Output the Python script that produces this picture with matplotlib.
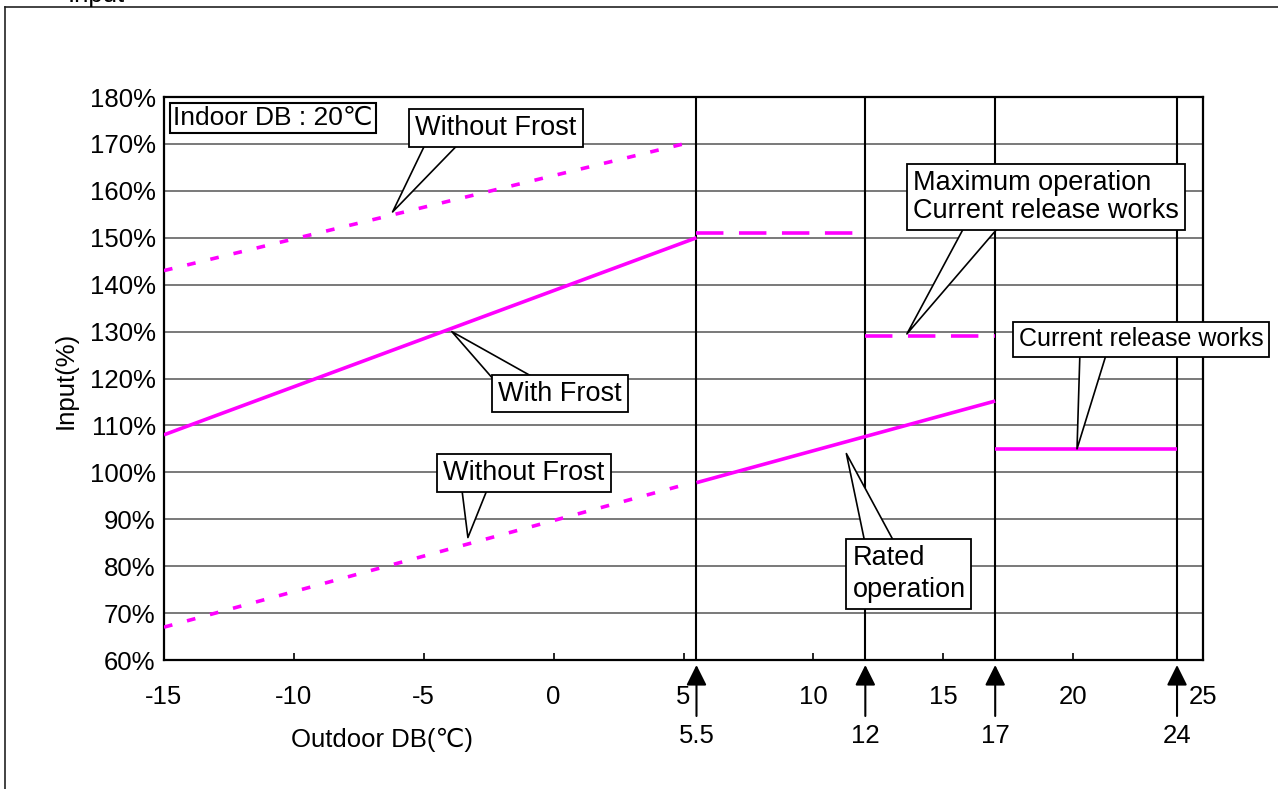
import matplotlib
matplotlib.use("Agg")
import matplotlib.pyplot as plt
from matplotlib.lines import Line2D

plt.rcParams['font.family'] = ['Liberation Sans', 'DejaVu Sans']

# ---- data ----
wf_upper_x = [-15, 5]
wf_upper_y = [143, 170]
with_frost_x = [-15, 5.5]
with_frost_y = [108, 150]
max_op1_x = [5.5, 12]
max_op1_y = [151, 151]
max_op2_x = [12, 17]
max_op2_y = [129, 129]
wf_lower_x = [-15, 5]
wf_lower_y = [67, 97.3]
rated_x = [5.5, 17]
rated_y = [97.8, 115.2]
cur_rel_x = [17, 24]
cur_rel_y = [105, 105]

marker_x = [5.5, 12, 17, 24]
marker_labels = ["5.5", "12", "17", "24"]
x_ticks = [-15, -10, -5, 0, 5, 10, 15, 20, 25]
y_ticks = [60, 70, 80, 90, 100, 110, 120, 130, 140, 150, 160, 170, 180]
y_tick_labels = [f"{v}%" for v in y_ticks]

MAG = '#FF00FF'
FS = 18.5
FSC = 19.5

fig = plt.figure(figsize=(12.78, 7.89), dpi=100)
ax = fig.add_axes([164/1278, 1-660/789, (1203-164)/1278, (660-97)/789])
ax.set_xlim(-15, 25)
ax.set_ylim(60, 180)

# grid
for v in y_ticks:
    ax.axhline(v, color='#555555', lw=1.1, zorder=1)
for m in marker_x:
    ax.axvline(m, color='black', lw=1.5, zorder=1.5)

dot = dict(color=MAG, lw=2.6, dashes=(2.4, 4.2), dash_capstyle='butt', zorder=3)
dash = dict(color=MAG, lw=2.6, dashes=(7.6, 4.3), dash_capstyle='butt', zorder=3)
solid = dict(color=MAG, lw=2.6, solid_capstyle='butt', zorder=3)

ax.plot(wf_upper_x, wf_upper_y, **dot)
ax.plot(with_frost_x, with_frost_y, **solid)
ax.plot(max_op1_x, max_op1_y, **dash)
ax.plot(max_op2_x, max_op2_y, **dash)
ax.plot(wf_lower_x, wf_lower_y, **dot)
ax.plot(rated_x, rated_y, **solid)
ax.plot(cur_rel_x, cur_rel_y, **solid)

# axes styling
for s in ax.spines.values():
    s.set_linewidth(1.6)
    s.set_color('black')
ax.set_xticks(x_ticks)
ax.set_xticklabels([str(v) for v in x_ticks])
ax.set_yticks(y_ticks)
ax.set_yticklabels(y_tick_labels)
ax.tick_params(axis='x', direction='in', length=5, width=1.2, labelsize=FS, pad=18)
ax.tick_params(axis='y', direction='in', length=0, labelsize=FS, pad=6)

ax.set_xlabel("Outdoor DB(℃)", fontsize=FS)
ax.xaxis.set_label_coords((382-164)/1039, -(740-660)/563)
ax.xaxis.label.set_va('center')
ax.set_ylabel("Input(%)", fontsize=FS)
ax.yaxis.set_label_coords((66-164)/1039, (660-380)/563)
ax.yaxis.label.set_va('center')

# arrows below x-axis marking boundaries
trans = ax.get_xaxis_transform()
for m, lab in zip(marker_x, marker_labels):
    ax.annotate('', xy=(m, -5/563), xycoords=trans, xytext=(m, -56/563), textcoords=trans,
                arrowprops=dict(arrowstyle='-|>,head_length=0.62,head_width=0.31', mutation_scale=20,
                                lw=1.5, color='black', shrinkA=0, shrinkB=0),
                annotation_clip=False)
    ax.text(m, -76/563, lab, transform=trans, ha='center', va='center', fontsize=FS)

# indoor DB box
ax.text(9/1039, (660-118)/563, "Indoor DB : 20℃", transform=ax.transAxes, ha='left', va='center',
        fontsize=FSC - 0.5, zorder=6,
        bbox=dict(boxstyle='square,pad=0.12', fc='white', ec='black', lw=1.5))

# callouts: text, tip, text centre, arrow start (relative to text), alignment, line spacing, size
callouts = [
    ("Without Frost", (-6.2, 155.5), (-2.22, 173.4), (0.2, 0.3), 'center', 1.0, FSC),
    ("Maximum operation\nCurrent release works", (13.6, 129.5), (18.96, 158.65), (0.28, 0.15), 'left', 1.12, FSC),
    ("Current release works", (20.15, 105), (22.61, 128.33), (0.31, 0.3), 'center', 1.0, 18),
    ("With Frost", (-3.92, 130.0), (0.245, 116.8), (0.19, 0.7), 'center', 1.0, FSC),
    ("Without Frost", (-3.3, 86.1), (-1.14, 99.93), (0.2, 0.3), 'center', 1.0, FSC),
    ("Rated\noperation", (11.27, 104.0), (13.68, 78.36), (0.27, 0.85), 'left', 1.28, FSC),
]
for txt, tip, pos, rp, ma, ls, fsz in callouts:
    ax.annotate(txt, xy=tip, xytext=pos, xycoords='data', textcoords='data',
                ha='center', va='center', multialignment=ma, fontsize=fsz, linespacing=ls,
                annotation_clip=False, zorder=6,
                bbox=dict(boxstyle='square,pad=0.22', fc='white', ec='black', lw=1.3),
                arrowprops=dict(arrowstyle='wedge,tail_width=1.15', fc='white', ec='black', lw=1.2,
                                relpos=rp, patchA=None, shrinkA=0, shrinkB=0))

# outer frame and cut-off title
fig.add_artist(Line2D([5/1278, 5/1278], [0, 1-7/789], transform=fig.transFigure, color='#222222', lw=1.2))
fig.add_artist(Line2D([5/1278, 1], [1-7/789, 1-7/789], transform=fig.transFigure, color='#222222', lw=1.2))
fig.text(68/1278, 1-2/789, "Input", ha='left', va='baseline', fontsize=FS)

fig.savefig("out.png", dpi=100)
